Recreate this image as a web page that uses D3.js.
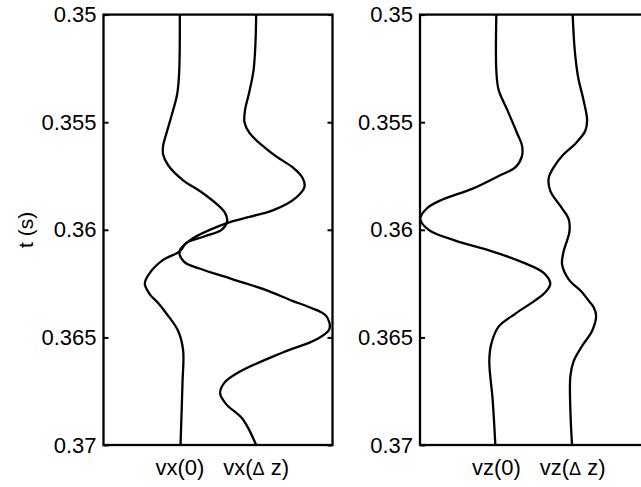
<!DOCTYPE html>
<html>
<head>
<meta charset="utf-8">
<script src="https://cdn.jsdelivr.net/npm/d3@7"></script>
<style>
  body { margin: 0; background: #fff; }
  svg text { font-family: "Liberation Sans", Arial, Helvetica, sans-serif; fill: #000; }
</style>
</head>
<body>
<div id="chart"></div>
<script>
// time ticks (s)
const tTicks = [0.35, 0.355, 0.36, 0.365, 0.37];
const tTickLabels = ["0.35", "0.355", "0.36", "0.365", "0.37"];

// traces: [time (s), amplitude offset from the trace baseline]
const vx0 = [
  [0.3500, 0], [0.3527, -0.009], [0.3537, -0.035], [0.3547, -0.109], [0.3555, -0.174],
  [0.3561, -0.219], [0.3565, -0.219], [0.3570, -0.153], [0.3577, 0.043], [0.3582, 0.262],
  [0.3588, 0.481], [0.3592, 0.590], [0.3596, 0.620], [0.3600, 0.546], [0.3603, 0.328],
  [0.3606, 0.088], [0.3610, 0], [0.3614, -0.219], [0.3620, -0.393], [0.3625, -0.459],
  [0.3630, -0.393], [0.3634, -0.284], [0.3639, -0.174], [0.3647, -0.022], [0.3656, 0.043],
  [0.3671, 0.035], [0.3700, 0.009]
];
const vxdz = [
  [0.3500, 0], [0.3513, -0.009], [0.3526, -0.035], [0.3537, -0.097], [0.3544, -0.144],
  [0.3550, -0.153], [0.3555, -0.088], [0.3561, 0.086], [0.3566, 0.266], [0.3571, 0.479],
  [0.3576, 0.610], [0.3580, 0.633], [0.3585, 0.524], [0.3591, 0.217], [0.3594, -0.088],
  [0.3597, -0.393], [0.3605, -0.873], [0.3610, -1.005], [0.3615, -0.939], [0.3618, -0.743],
  [0.3623, -0.307], [0.3628, 0.131], [0.3633, 0.475], [0.3636, 0.698], [0.3640, 0.917],
  [0.3646, 0.960], [0.3651, 0.786], [0.3657, 0.348], [0.3666, -0.219], [0.3671, -0.415],
  [0.3676, -0.472], [0.3681, -0.393], [0.3688, -0.175], [0.3700, 0]
];
const vz0 = [
  [0.3500, 0], [0.3526, 0], [0.3535, 0.030], [0.3544, 0.140], [0.3555, 0.271],
  [0.3561, 0.337], [0.3566, 0.334], [0.3571, 0.249], [0.3575, 0.030], [0.3581, -0.318],
  [0.3586, -0.711], [0.3590, -0.908], [0.3595, -0.996], [0.3600, -0.887], [0.3605, -0.537],
  [0.3610, -0.056], [0.3615, 0.337], [0.3620, 0.620], [0.3625, 0.707], [0.3629, 0.642],
  [0.3633, 0.500], [0.3639, 0.249], [0.3645, 0.030], [0.3653, -0.066], [0.3661, -0.092],
  [0.3679, -0.048], [0.3700, -0.013]
];
const vzdz = [
  [0.3500, 0], [0.3516, 0.026], [0.3529, 0.071], [0.3540, 0.144], [0.3549, 0.189],
  [0.3554, 0.166], [0.3560, 0.035], [0.3565, -0.122], [0.3571, -0.249], [0.3576, -0.314],
  [0.3582, -0.292], [0.3590, -0.139], [0.3595, -0.052], [0.3601, -0.043], [0.3610, -0.118],
  [0.3616, -0.139], [0.3623, -0.052], [0.3629, 0.123], [0.3633, 0.210], [0.3636, 0.275],
  [0.3640, 0.307], [0.3647, 0.254], [0.3654, 0.123], [0.3661, 0.013], [0.3668, -0.030],
  [0.3684, -0.030], [0.3700, -0.008]
];

const panels = [
  {left: 103.5, traces: [vx0, vxdz], labels: ["vx(0)", "vx(Δ z)"], ylabel: true},
  {left: 420, traces: [vz0, vzdz], labels: ["vz(0)", "vz(Δ z)"], ylabel: false}
];

const width = 641, height = 487;
const panelW = 229, plotTop = 14.6, plotBottom = 445;

const svg = d3.select("#chart").append("svg")
    .attr("width", width)
    .attr("height", height);

const y = d3.scaleLinear()
    .domain([0.35, 0.37])
    .range([plotTop, plotBottom]);

panels.forEach(p => {
    const x = d3.scaleLinear()
        .domain([0, 3])
        .range([p.left, p.left + panelW]);

    const g = svg.append("g");

    // left axis, ticks pointing inward
    const yAxis = d3.axisLeft(y)
        .tickValues(tTicks)
        .tickFormat((d, i) => tTickLabels[i])
        .tickSizeInner(-5)
        .tickSizeOuter(0)
        .tickPadding(7);

    const ga = g.append("g")
        .attr("transform", `translate(${p.left},0)`)
        .call(yAxis);
    ga.select(".domain").remove();
    ga.selectAll("line").attr("stroke", "#000").attr("stroke-width", 2);
    ga.selectAll("text")
        .attr("font-size", 22)
        .attr("fill", "#000")
        .style("font-family", "'Liberation Sans', Arial, sans-serif");

    const gr = g.append("g")
        .attr("transform", `translate(${p.left + panelW},0)`)
        .call(d3.axisRight(y).tickValues(tTicks).tickFormat("").tickSizeInner(-5).tickSizeOuter(0));
    gr.select(".domain").remove();
    gr.selectAll("line").attr("stroke", "#000").attr("stroke-width", 2);

    // traces
    const line = d3.line()
        .x(d => x(d.base + d.a))
        .y(d => y(d.t))
        .curve(d3.curveCatmullRom.alpha(0.5));

    p.traces.forEach((tr, i) => {
        const pts = tr.map(d => ({t: d[0], a: d[1], base: i + 1}));
        g.append("path")
            .datum(pts)
            .attr("fill", "none")
            .attr("stroke", "#000")
            .attr("stroke-width", 2.3)
            .attr("stroke-linejoin", "round")
            .attr("d", line);
    });

    // frame
    g.append("rect")
        .attr("x", p.left)
        .attr("y", plotTop)
        .attr("width", panelW)
        .attr("height", plotBottom - plotTop)
        .attr("fill", "none")
        .attr("stroke", "#000")
        .attr("stroke-width", 2.3);

    // trace labels
    p.labels.forEach((lab, i) => {
        const txt = g.append("text")
            .attr("x", x(i + 1))
            .attr("y", 475)
            .attr("text-anchor", "middle")
            .attr("font-size", 22);
        const parts = lab.split("Δ");
        txt.append("tspan").text(parts[0]);
        if (parts.length > 1) {
            txt.append("tspan").attr("font-size", 18).text("Δ");
            txt.append("tspan").text(parts[1]);
        }
    });

    if (p.ylabel) {
        svg.append("text")
            .attr("transform", `translate(33,${(plotTop + plotBottom) / 2}) rotate(-90)`)
            .attr("text-anchor", "middle")
            .attr("font-size", 21)
            .text("t (s)");
    }
});
</script>
</body>
</html>
